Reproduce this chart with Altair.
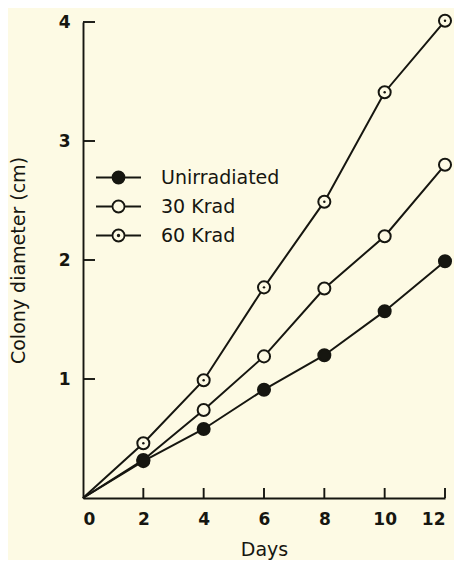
import altair as alt
import pandas as pd

days = [0, 2, 4, 6, 8, 10, 12]
unirradiated = [0, 0.31, 0.58, 0.91, 1.20, 1.57, 1.99]
krad30 = [0, 0.32, 0.74, 1.19, 1.76, 2.20, 2.80]
krad60 = [0, 0.46, 0.99, 1.77, 2.49, 3.41, 4.01]
legend_order = ["Unirradiated", "30 Krad", "60 Krad"]
x_tick_values = [0, 2, 4, 6, 8, 10, 12]
y_tick_values = [1, 2, 3, 4]

rows = []
for name, vals in [("60 Krad", krad60), ("30 Krad", krad30), ("Unirradiated", unirradiated)]:
    for d, v in zip(days, vals):
        rows.append({"day": d, "diam": v, "series": name})
df = pd.DataFrame(rows)
pts = df[df["day"] > 0]
dots = df[(df["day"] > 0) & (df["series"] == "60 Krad")]

BG = "#fdfae4"
INK = "#161610"
FONT = "DejaVu Sans"
W, H = 362, 476

xs = alt.Scale(domain=[0, 12], nice=False, zero=False)
ys = alt.Scale(domain=[0, 4], nice=False)

x_axis = alt.Axis(values=x_tick_values, format="d", tickSize=0, grid=False, domainColor=INK, domainWidth=1.9,
                  labelFont=FONT, labelFontSize=17, labelFontWeight="bold", labelColor=INK,
                  labelPadding=13, title="Days", titleFont=FONT, titleFontSize=19,
                  titleFontWeight="normal", titleColor=INK, titlePadding=13)
y_axis = alt.Axis(values=y_tick_values, format="d", tickSize=0, grid=False, domainColor=INK, domainWidth=1.9,
                  labelFont=FONT, labelFontSize=17, labelFontWeight="bold", labelColor=INK,
                  labelPadding=13, title="Colony diameter (cm)", titleFont=FONT, titleFontSize=19,
                  titleFontWeight="normal", titleColor=INK, titlePadding=30)

circle = "M-0.8,0A0.8,0.8,0,1,0,0.8,0A0.8,0.8,0,1,0,-0.8,0"
arms = "M-3,0L-0.8,0M0.8,0L3,0"
dot = "M-0.1,0A0.1,0.1,0,1,0,0.1,0A0.1,0.1,0,1,0,-0.1,0"
sym_plain = arms + circle
sym_dot = arms + circle + dot
sym_expr = "datum.value === '60 Krad' ? '%s' : '%s'" % (sym_dot, sym_plain)

legend = alt.Legend(title=None, orient="none", legendX=26, legendY=146, padding=0,
                    symbolType={"expr": sym_expr}, symbolSize=225, symbolStrokeWidth=1.8,
                    symbolStrokeColor=INK, labelFont=FONT, labelFontSize=19, labelColor=INK,
                    labelOffset=33, rowPadding=8)

fill_scale = alt.Scale(domain=legend_order, range=[INK, BG, BG])

lines = alt.Chart(df).mark_line(color=INK, strokeWidth=2).encode(
    x=alt.X("day:Q", scale=xs, axis=x_axis),
    y=alt.Y("diam:Q", scale=ys, axis=y_axis),
    detail="series:N",
)

points = alt.Chart(pts).mark_point(filled=True, size=145, stroke=INK, strokeWidth=2, opacity=1).encode(
    x=alt.X("day:Q", scale=xs),
    y=alt.Y("diam:Q", scale=ys),
    fill=alt.Fill("series:N", scale=fill_scale, legend=legend),
)

centre_dots = alt.Chart(dots).mark_point(filled=True, size=6, color=INK, opacity=1).encode(
    x=alt.X("day:Q", scale=xs),
    y=alt.Y("diam:Q", scale=ys),
)

xt = pd.DataFrame({"t": x_tick_values[1:]})
yt = pd.DataFrame({"t": y_tick_values})
x_ticks = alt.Chart(xt).mark_rule(color=INK, strokeWidth=1.9).encode(
    x=alt.X("t:Q", scale=xs), y=alt.value(H), y2=alt.value(H - 10))
y_ticks = alt.Chart(yt).mark_rule(color=INK, strokeWidth=1.9).encode(
    y=alt.Y("t:Q", scale=ys), x=alt.value(0), x2=alt.value(12))

chart = alt.layer(lines, x_ticks, y_ticks, points, centre_dots).properties(
    width=W, height=H,
    padding={"left": 75, "top": 14, "right": 9, "bottom": 62},
    autosize=alt.AutoSizeParams(type="none"),
    background=BG,
).configure_view(stroke=None)

chart.save("out.html", embed_options={"renderer": "svg", "actions": False})
